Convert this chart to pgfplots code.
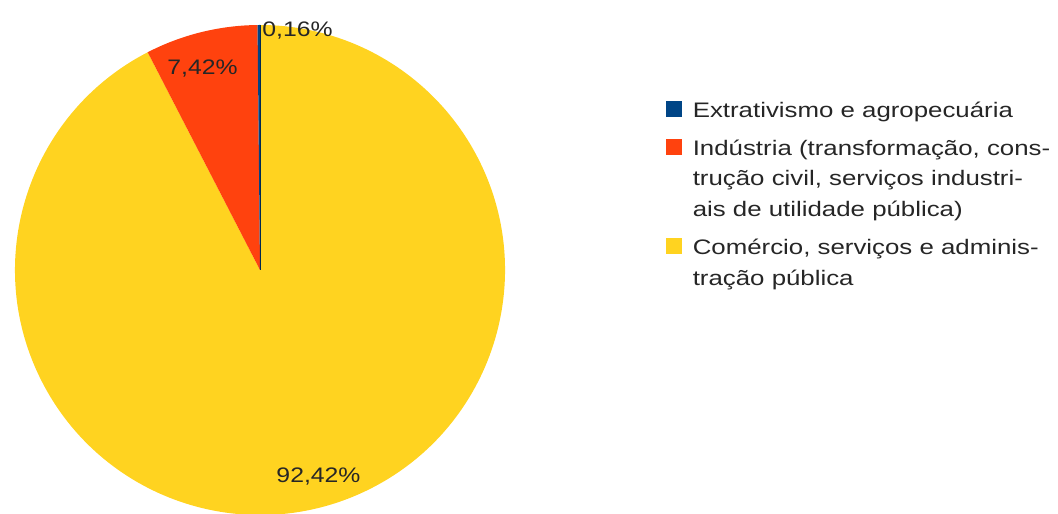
\documentclass[border=0pt]{standalone}
\usepackage{fontspec}
\setmainfont{Liberation Sans}
\newfontfamily\legfont[FakeStretch=1.23]{Liberation Sans}
\newfontfamily\labfont[FakeStretch=1.18]{Liberation Sans}
\usepackage{pgfplots}
\usepackage{pgfplotstable}
\pgfplotsset{compat=1.18}
\definecolor{pieblue}{HTML}{004586}
\definecolor{piered}{HTML}{FF420E}
\definecolor{pieyellow}{HTML}{FFD320}
\pgfplotstableread{
value
0.16
7.42
92.42
}\piedata
\begin{document}
\begin{tikzpicture}
\pgfplotstablegetelem{0}{value}\of\piedata \let\va\pgfplotsretval
\pgfplotstablegetelem{1}{value}\of\piedata \let\vb\pgfplotsretval
\pgfplotstablegetelem{2}{value}\of\piedata \let\vc\pgfplotsretval
\pgfmathsetmacro\aA{90+3.6*\va}
\pgfmathsetmacro\aB{\aA+3.6*\vb}
\pgfmathsetmacro\aC{\aB+3.6*\vc}
\begin{axis}[
  x=0.5pt, y=0.5pt,
  xmin=0, xmax=1058, ymin=0, ymax=513,
  hide axis, clip=true,
  legend style={draw=none, fill=none, at={(axis cs:666,417.3)}, anchor=north west,
    font=\legfont\fontsize{10.5}{15.25}\selectfont, inner sep=0pt, outer sep=0pt,
    row sep=7pt, column sep=5.5pt,
    nodes={align=left, inner sep=0pt, outer sep=0pt, text=black!85}},
  legend cell align=left,
]
\path (axis cs:0,0) rectangle (axis cs:1058,513);
\begin{scope}[overlay]
\fill[pieyellow] (axis cs:260,243) -- ++(\aB:122.5pt) arc[start angle=\aB, end angle=\aC, radius=122.5pt] -- cycle;
\fill[piered] (axis cs:260,243) -- ++(\aA:122.5pt) arc[start angle=\aA, end angle=\aB, radius=122.5pt] -- cycle;
\fill[pieblue] (axis cs:260,243) -- ++(90:122.5pt) arc[start angle=90, end angle=\aA, radius=122.5pt] -- cycle;
\draw[pieblue!60!black, line width=0.5pt] (axis cs:260,243) -- ++(90:122.5pt);
\end{scope}
\node[font=\labfont\fontsize{10.5}{12}\selectfont, text=black!85, anchor=base west, inner sep=0pt] at (axis cs:262,476) {0,16\%};
\node[font=\labfont\fontsize{10.5}{12}\selectfont, text=black!85, anchor=base, inner sep=0pt] at (axis cs:202.5,438) {7,42\%};
\node[font=\labfont\fontsize{10.5}{12}\selectfont, text=black!85, anchor=base, inner sep=0pt] at (axis cs:318.5,31) {92,42\%};
\addlegendimage{legend image code/.code={\fill[pieblue] (0pt,-4.05pt) rectangle (7.5pt,3.45pt);}}
\addlegendentry{\strut Extrativismo e agropecuária\strut}
\addlegendimage{legend image code/.code={\fill[piered] (0pt,11.2pt) rectangle (7.5pt,18.7pt);}}
\addlegendentry{\strut Indústria (transformação, cons-\\trução civil, serviços industri-\\ais de utilidade pública)\strut}
\addlegendimage{legend image code/.code={\fill[pieyellow] (0pt,3.575pt) rectangle (7.5pt,11.075pt);}}
\addlegendentry{\strut Comércio, serviços e adminis-\\tração pública\strut}
\end{axis}
\end{tikzpicture}
\end{document}
